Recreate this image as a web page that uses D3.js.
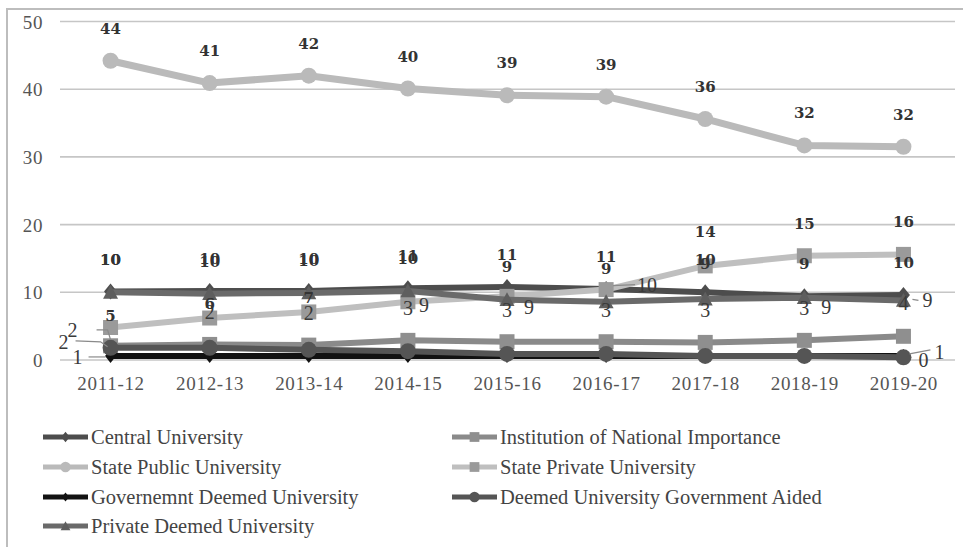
<!DOCTYPE html>
<html><head><meta charset="utf-8">
<script src="https://cdn.jsdelivr.net/npm/d3@7"></script>
<style>
html,body{margin:0;padding:0;background:#fff;}
svg{display:block;}
</style></head>
<body>
<svg id="chart" width="963" height="547"></svg>
<script>
// ---------------- DATA ----------------
const categories = ["2011-12","2012-13","2013-14","2014-15","2015-16","2016-17","2017-18","2018-19","2019-20"];
const yTicks = [0, 10, 20, 30, 40, 50];

const centralUniversity            = [10.1, 10.2, 10.2, 10.6, 10.8, 10.5, 10.0, 9.4, 9.6];
const institutionNationalImportance= [2.1, 2.3, 2.2, 2.9, 2.7, 2.7, 2.6, 2.9, 3.5];
const statePublicUniversity        = [44.2, 40.9, 42.0, 40.1, 39.1, 38.9, 35.6, 31.7, 31.5];
const statePrivateUniversity       = [4.8, 6.2, 7.1, 8.6, 9.4, 10.4, 13.9, 15.4, 15.6];
const govtDeemedUniversity         = [0.6, 0.6, 0.6, 0.6, 0.6, 0.6, 0.6, 0.6, 0.6];
const deemedUnivGovtAided          = [1.8, 1.8, 1.5, 1.3, 0.9, 0.9, 0.6, 0.6, 0.4];
const privateDeemedUniversity      = [10.0, 9.8, 9.9, 10.2, 8.9, 8.6, 9.0, 9.2, 8.8];

const seriesNames = ["Central University","Institution of National Importance","State Public University",
  "State Private University","Governemnt Deemed University","Deemed University Government Aided","Private Deemed University"];

// ---------------- STYLE / LABEL PLACEMENT ----------------
const A = [0, -32, true];
const labelPlacement = [
  [A,A,A,A,A,A,A,A,A],
  [[-38,-16,false,[[-14,-16],[-3,-16],[0,-6]]],[0,-32,false],[0,-32,false],[0,-32,false],[0,-32,false],[0,-32,false],[0,-32,false],[0,-32,false],[0,-33,false]],
  [A,A,A,A,A,A,A,A,A],
  [[0,-12,true],[0,-14,true],[0,-14,true],[16,3,false],[22,11,false],[41,-5,false,[[7,-4],[29,-5]]],[0,-34,true],[0,-32,true],[0,-32,true]],
  [[-33,1,false,[[-22,1],[-5,1]]],null,null,null,null,null,null,null,[36,-4,false,[[6,-2],[27,-6]]]],
  [[-47,-6,false,[[-35,-7],[-10,-6],[-3,-1]]],null,null,null,null,null,null,null,[20,3,false]],
  [A,A,A,A,[0,-33,true],[0,-33,true],[0,-35,true],[22,9,false],[24,0,false,[[9,-1],[15,0]]]]
];

const styles = [
  {line:"#4d4d4d", fill:"#4d4d4d", marker:"diamond", w:6},
  {line:"#8a8a8a", fill:"#8f8f8f", marker:"square", w:6},
  {line:"#bababa", fill:"#bababa", marker:"circle", w:7},
  {line:"#bfbfbf", fill:"#9a9a9a", marker:"square", w:6},
  {line:"#121212", fill:"#121212", marker:"diamondSmall", w:6},
  {line:"#555555", fill:"#555555", marker:"circle", w:6},
  {line:"#6a6a6a", fill:"#5e5e5e", marker:"triangle", w:6}
];

const seriesValues = [centralUniversity, institutionNationalImportance, statePublicUniversity,
  statePrivateUniversity, govtDeemedUniversity, deemedUnivGovtAided, privateDeemedUniversity];

// ---------------- CHART ----------------
const svg = d3.select("#chart");
const W = 963, H = 547;

// outer frame
svg.append("rect").attr("x",7).attr("y",9).attr("width",W+20).attr("height",H+20)
  .attr("fill","none").attr("stroke","#bdbdbd").attr("stroke-width",2);

const x = d3.scalePoint().domain(categories).range([61, 953]).padding(0.5);
const y = d3.scaleLinear().domain([0, 50]).range([360, 21.5]);

// gridlines
const gridG = svg.append("g");
gridG.selectAll("line").data(yTicks).join("line")
  .attr("x1",60).attr("x2",955)
  .attr("y1",d=>y(d)).attr("y2",d=>y(d))
  .attr("stroke","#c6c6c6").attr("stroke-width",1.6);

// y axis labels
const yAxis = d3.axisLeft(y).tickValues(yTicks).tickSize(0).tickPadding(0);
const yg = svg.append("g").attr("transform","translate(43,0)").call(yAxis);
yg.select(".domain").remove();
yg.selectAll("text").attr("font-family","'Liberation Serif', serif").attr("font-size",19)
  .attr("fill","#555").attr("letter-spacing","0.6px").attr("dy","0.35em");

// x axis labels
const xAxis = d3.axisBottom(x).tickSize(0).tickPadding(0);
const xg = svg.append("g").attr("transform","translate(0,375)").call(xAxis);
xg.select(".domain").remove();
xg.selectAll("text").attr("font-family","'Liberation Serif', serif").attr("font-size",19)
  .attr("fill","#555").attr("letter-spacing","0.7px").attr("dy","0.8em");

function markerPath(type, scale){
  const s = scale || 1;
  switch(type){
    case "diamond": { const a=6.5*s, b=8*s; return `M0,${-b}L${a},0L0,${b}L${-a},0Z`; }
    case "diamondSmall": { const a=5.5*s, b=7*s; return `M0,${-b}L${a},0L0,${b}L${-a},0Z`; }
    case "square": { const h=7.5*s; return `M${-h},${-h}H${h}V${h}H${-h}Z`; }
    case "triangle": { const h=7.5*s; return `M0,${-h}L${h},${h*0.85}L${-h},${h*0.85}Z`; }
    case "circle": { const r=8*s; return `M${r},0A${r},${r} 0 1,1 ${-r},0A${r},${r} 0 1,1 ${r},0Z`; }
  }
}

const line = d3.line().x((d,i)=>x(categories[i])).y(d=>y(d));

const plot = svg.append("g");
seriesValues.forEach((vals, si) => {
  const st = styles[si];
  const g = plot.append("g");
  g.append("path").datum(vals).attr("d", line)
    .attr("fill","none").attr("stroke", st.line).attr("stroke-width", st.w)
    .attr("stroke-linejoin","round");
  g.selectAll("path.m").data(vals).join("path").attr("class","m")
    .attr("transform",(d,i)=>`translate(${x(categories[i])},${y(d)})`)
    .attr("d", markerPath(st.marker)).attr("fill", st.fill);
});

// data labels
const labelG = svg.append("g");
seriesValues.forEach((vals, si) => {
  vals.forEach((v, i) => {
    const p = labelPlacement[si][i];
    if (!p) return;
    const px = x(categories[i]), py = y(v);
    if (p[3]) {
      labelG.append("path")
        .attr("d", d3.line()(p[3].map(q=>[px+q[0], py+q[1]])))
        .attr("fill","none").attr("stroke","#8a8a8a").attr("stroke-width",1.2);
    }
    const t = labelG.append("text")
      .attr("x", px + p[0]).attr("y", py + p[1])
      .attr("text-anchor","middle").attr("dominant-baseline","central")
      .text(Math.round(v));
    if (p[2]) {
      t.attr("font-family","'DejaVu Serif', serif").attr("font-weight","bold")
       .attr("font-size",15).attr("fill","#333");
    } else {
      t.attr("font-family","'Liberation Serif', serif").attr("font-size",20).attr("fill","#3a3a3a");
    }
  });
});

// legend
const legendLayout = [
  {col:0,row:0},{col:1,row:0},{col:0,row:1},{col:1,row:1},{col:0,row:2},{col:1,row:2},{col:0,row:3}
];
const colX = [43, 452], rowY = [437, 467, 497, 526];
const lg = svg.append("g");
seriesNames.forEach((name, si) => {
  const st = styles[si];
  const L = legendLayout[si];
  const gx = colX[L.col], gy = rowY[L.row];
  const g = lg.append("g").attr("transform",`translate(${gx},${gy})`);
  g.append("line").attr("x1",0).attr("x2",45).attr("y1",0).attr("y2",0)
    .attr("stroke",st.line).attr("stroke-width",5);
  g.append("path").attr("transform","translate(22.5,0)")
    .attr("d", markerPath(st.marker, 0.65)).attr("fill", st.fill);
  g.append("text").attr("x",48).attr("y",0).attr("dy","0.33em")
    .attr("font-family","'Liberation Serif', serif").attr("font-size",20.5)
    .attr("fill","#444").text(name);
});
</script>
</body></html>
